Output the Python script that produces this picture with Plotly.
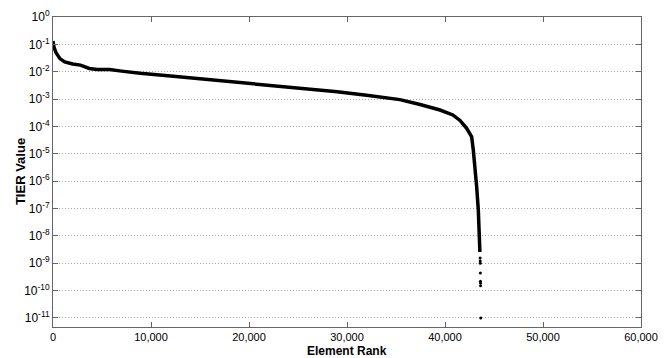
import plotly.graph_objects as go

# Main curve (element rank, TIER value)
rank = [0, 100, 300, 700, 1200, 2000, 2800, 3700, 4500, 5800, 7000, 8900,
        12000, 15000, 19000, 23000, 26000, 29000, 32000, 34000, 35400, 37450,
        39490, 40800, 41530, 42210, 42720, 42890, 43060, 43230, 43400, 43470,
        43520, 43560]
tier = [0.132, 0.0794, 0.0501, 0.0302, 0.0229, 0.0191, 0.0174, 0.0132, 0.0120,
        0.0120, 0.0105, 0.00871, 0.00692, 0.00550, 0.00398, 0.00302, 0.00240,
        0.00186, 0.00138, 0.00112, 0.000955, 0.000631, 0.000398, 0.000263,
        0.000166, 8.51e-5, 4.17e-5, 1.35e-5, 3.31e-6, 6.31e-7, 8.71e-8,
        3.16e-8, 1.0e-8, 2.57e-9]

# Sparse tail points
tail_rank = [43580, 43590, 43600, 43610, 43620, 43625, 43630, 43650]
tail_tier = [1.55e-9, 1.2e-9, 1.0e-9, 4.4e-10, 2.2e-10, 1.9e-10, 1.5e-10, 1.0e-11]

x_ticks = [0, 10000, 20000, 30000, 40000, 50000, 60000]
x_labels = ["0", "10,000", "20,000", "30,000", "40,000", "50,000", "60,000"]
y_exps = list(range(0, -12, -1))
y_ticks = [10.0 ** e for e in y_exps]
y_labels = ["10<sup>%d</sup>" % e for e in y_exps]

FONT = "Liberation Sans, Arial"

fig = go.Figure()
fig.add_trace(go.Scatter(x=rank, y=tier, mode="lines",
                         line=dict(color="black", width=3.5), showlegend=False))
fig.add_trace(go.Scatter(x=tail_rank, y=tail_tier, mode="markers",
                         marker=dict(color="black", size=3), showlegend=False))

axis_common = dict(showline=True, linecolor="#666666", linewidth=1, mirror="ticks",
                   ticks="inside", ticklen=5, tickcolor="#666666", zeroline=False,
                   automargin=False)

fig.update_xaxes(range=[0, 60000], tickvals=x_ticks, ticktext=x_labels,
                 showgrid=False, ticklabelstandoff=0,
                 tickfont=dict(family=FONT, size=11, color="black"), **axis_common)
fig.update_yaxes(type="log", range=[-11.33, 0], tickvals=y_ticks, ticktext=y_labels,
                 showgrid=True, gridcolor="#aaaaaa", griddash="1px,2px", gridwidth=1,
                 tickfont=dict(family=FONT, size=12, color="black"), **axis_common)

fig.add_annotation(text="<b>Element Rank</b>", xref="paper", yref="paper",
                   x=0.5, y=-0.078, xanchor="center", yanchor="middle",
                   showarrow=False, font=dict(family=FONT, size=12, color="black"))
fig.add_annotation(text="<b>TIER Value</b>", xref="paper", yref="paper",
                   x=-0.056, y=0.5, xanchor="center", yanchor="middle", textangle=-90,
                   showarrow=False, font=dict(family=FONT, size=13, color="black"))

fig.update_layout(width=666, height=358, margin=dict(l=53, r=25, t=17, b=31),
                  plot_bgcolor="white", paper_bgcolor="white")

fig.write_html("out.html")
